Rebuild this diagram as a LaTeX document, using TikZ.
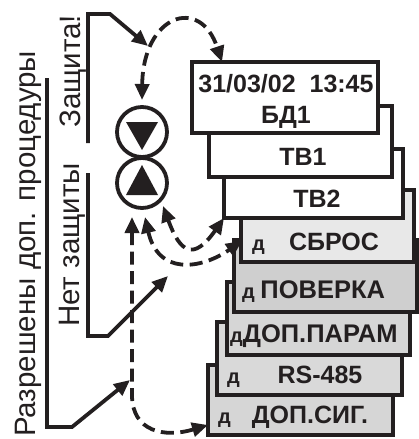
\documentclass[tikz,border=0pt]{standalone}
\usepackage{fontspec}
\setmainfont{Liberation Sans}
\usetikzlibrary{arrows.meta,calc}
\definecolor{ink}{RGB}{35,31,32}
\begin{document}
\begin{tikzpicture}[x=1pt,y=-1pt,
  lw/.style={line width=3.8pt, draw=ink},
  box/.style={lw, rectangle, inner sep=0pt, outer sep=0pt, anchor=north west},
  btxt/.style={font=\bfseries\fontsize{25}{25}\selectfont, text=ink, inner sep=0pt, anchor=base},
  dtxt/.style={font=\bfseries\fontsize{20}{20}\selectfont, text=ink, inner sep=0pt, anchor=base west},
  vtxt/.style={font=\fontsize{29.5}{29.5}\selectfont, text=ink, inner sep=0pt, anchor=base west, rotate=90},
  tip/.style={-{Triangle[length=16pt,width=14pt]}},
  dtip/.style={{Triangle[length=16pt,width=14pt]}-{Triangle[length=16pt,width=14pt]}},
  dashline/.style={dash pattern=on 13pt off 6.5pt},
  circ/.style={lw, circle, minimum size=50pt, inner sep=0pt, outer sep=0pt}
]
\useasboundingbox (0,0) rectangle (419,439);
% boxes, lowest first
\node[box, fill=black!16, minimum width=185pt, minimum height=70pt] (dopsig) at (208,365) {};
\node[dtxt] (dopsigd) at (218,423) {д};
\node[btxt] (dopsigt) at (310,423) {ДОП.СИГ.};
\node[box, fill=black!15, minimum width=185pt, minimum height=73pt] (rs) at (217,322) {};
\node[dtxt] (rsd) at (227,383) {д};
\node[btxt] (rst) at (320,383) {RS-485};
\node[box, fill=black!16, minimum width=183pt, minimum height=73pt] (dopparam) at (227,282) {};
\node[btxt, anchor=base west] (dopparamt) at (230,342) {\fontsize{20}{20}\selectfont д\fontsize{25.5}{25}\selectfont ДОП.ПАРАМ};
\node[box, fill=black!19, minimum width=183pt, minimum height=72pt] (poverka) at (234,240) {};
\node[btxt, anchor=base west] (poverkat) at (242,298) {\fontsize{20}{20}\selectfont д \fontsize{25.5}{25}\selectfont ПОВЕРКА};
\node[box, fill=black!9, minimum width=173pt, minimum height=72pt] (sbros) at (241,190) {};
\node[dtxt] (sbrosd) at (252,250) {д};
\node[btxt] (sbrost) at (334,250) {СБРОС};
\node[box, fill=white, minimum width=179pt, minimum height=69pt] (tb2) at (224,149) {};
\node[btxt] (tb2t) at (317,207) {ТВ2};
\node[box, fill=white, minimum width=183pt, minimum height=71pt] (tb1) at (209,106) {};
\node[btxt] (tb1t) at (303,165) {ТВ1};
\node[box, fill=white, minimum width=186pt, minimum height=71pt] (bd1) at (192,62) {};
\node[btxt] (bd1a) at (286,92) {31/03/02\ \ 13:45};
\node[btxt] (bd1b) at (286,123) {БД1};
% circles
\node[circ] (c1) at (142,132) {};
\node[circ] (c2) at (142,183) {};
\fill[ink] (126,122) -- (158,122) -- (142,150) -- cycle;
\fill[ink] (142,165) -- (158,195) -- (126,195) -- cycle;
% vertical texts
\node[vtxt] (t1) at (35,437) {Разрешены доп. процедуры};
\node[vtxt] (t2) at (80,128) {Защита!};
\node[vtxt] (t3) at (79,327) {Нет защиты};
% brackets
\coordinate (a1) at (130,380);
\coordinate (a2) at (148,46);
\coordinate (a3) at (168,276);
\draw[lw, tip] (47,78) -- (47,427) -- (72,427) -- (a1);
\draw[lw, tip] (88,143) -- (88,14) -- (110,14) -- (a2);
\draw[lw, tip] (88,173) -- (88,336) -- (108,336) -- (a3);
% dashed connectors
\draw[lw, dashline, dtip] ($(c1.north)+(0,-7)$) .. controls (143,15) and (200,-5) .. ($(bd1.north west)+(30,0)$);
\draw[lw, dashline, dtip] ($(c2.center)+(21,23)$) .. controls (180,252) and (193,262) .. (tb2.south west);
\draw[lw, dashline, dtip] ($(c2.center)+(3,34)$) .. controls (158,275) and (200,270) .. ($(sbros.west)+(1,15)$);
\draw[lw, dashline, dtip] ($(c2.center)+(-10,34)$) -- (132,395) .. controls (132,432) and (165,438) .. ($(dopsig.west)+(0,25)$);
\end{tikzpicture}
\end{document}
